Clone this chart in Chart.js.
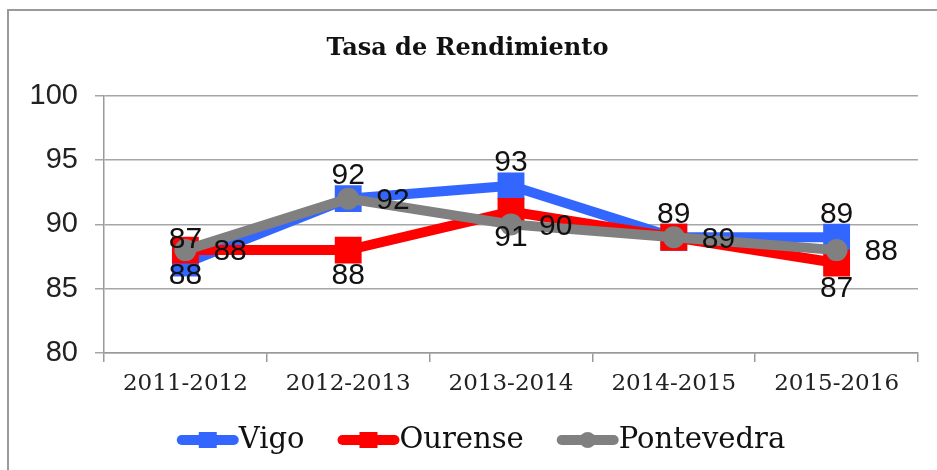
<!DOCTYPE html>
<html>
<head>
<meta charset="utf-8">
<script src="https://cdn.jsdelivr.net/npm/chart.js@4.4.0/dist/chart.umd.min.js"></script>
<style>
  html, body { margin: 0; padding: 0; background: #fff; }
  #grafico-wrap { width: 937px; height: 470px; }
</style>
</head>
<body>
<div id="grafico-wrap"><canvas id="rendimiento"></canvas></div>
<script>
// Datos del gráfico
var cursos = ['2011-2012', '2012-2013', '2013-2014', '2014-2015', '2015-2016'];
var vigo = [87, 92, 93, 89, 89];
var ourense = [88, 88, 91, 89, 87];
var pontevedra = [88, 92, 90, 89, 88];
var etiquetasOcultasOurense = [3]; // la etiqueta de 2014-2015 no aparece en el original

var fuenteSerif = '"DejaVu Serif", "Liberation Serif", serif';
var fuenteSans = '"Liberation Sans", Arial, sans-serif';

// Marco gris del gráfico (arriba e izquierda)
var marco = {
    id: 'marco',
    beforeDraw: function (chart) {
        var ctx = chart.ctx;
        ctx.save();
        ctx.fillStyle = '#fff';
        ctx.fillRect(0, 0, chart.width, chart.height);
        ctx.strokeStyle = '#9a9a9a';
        ctx.lineWidth = 2;
        ctx.beginPath();
        ctx.moveTo(7, 10);
        ctx.lineTo(chart.width, 10);
        ctx.moveTo(8, 10);
        ctx.lineTo(8, chart.height);
        ctx.stroke();
        ctx.restore();
    }
};

// Etiquetas de datos: arriba, abajo o a la derecha del punto
var etiquetas = {
    id: 'etiquetas',
    afterDatasetsDraw: function (chart) {
        var ctx = chart.ctx;
        ctx.save();
        ctx.font = '30px ' + fuenteSans;
        ctx.fillStyle = '#111';
        chart.data.datasets.forEach(function (ds, i) {
            var meta = chart.getDatasetMeta(i);
            meta.data.forEach(function (pt, j) {
                if (ds.ocultas && ds.ocultas.indexOf(j) !== -1) return;
                var txt = String(ds.data[j]);
                if (ds.posicion === 'arriba') {
                    ctx.textAlign = 'center';
                    ctx.textBaseline = 'middle';
                    ctx.fillText(txt, pt.x, pt.y - 23);
                } else if (ds.posicion === 'abajo') {
                    ctx.textAlign = 'center';
                    ctx.textBaseline = 'middle';
                    ctx.fillText(txt, pt.x, pt.y + 26);
                } else {
                    ctx.textAlign = 'left';
                    ctx.textBaseline = 'middle';
                    ctx.fillText(txt, pt.x + 28, pt.y + 2);
                }
            });
        });
        ctx.restore();
    }
};

// Leyenda propia: línea gruesa con marcador y texto
var leyenda = {
    id: 'leyenda',
    afterDraw: function (chart) {
        var ctx = chart.ctx;
        var series = chart.data.datasets.slice().sort(function (a, b) { return a.indice - b.indice; });
        ctx.save();
        ctx.font = '29px ' + fuenteSerif;
        var largoLinea = 60, hueco = 1, separacion = 34;
        var total = 0;
        series.forEach(function (ds, k) {
            total += largoLinea + hueco + ctx.measureText(ds.label).width;
            if (k > 0) total += separacion;
        });
        var x = chart.width / 2 + 13 - total / 2;
        var y = 440;
        series.forEach(function (ds) {
            ctx.strokeStyle = ds.borderColor;
            ctx.lineWidth = 10;
            ctx.lineCap = 'round';
            ctx.beginPath();
            ctx.moveTo(x + 4, y);
            ctx.lineTo(x + largoLinea - 4, y);
            ctx.stroke();
            ctx.fillStyle = ds.borderColor;
            if (ds.pointStyle === 'circle') {
                ctx.beginPath();
                ctx.arc(x + largoLinea / 2, y, 8, 0, Math.PI * 2);
                ctx.fill();
            } else {
                ctx.fillRect(x + largoLinea / 2 - 9, y - 8, 18, 16);
            }
            ctx.fillStyle = '#111';
            ctx.textAlign = 'left';
            ctx.textBaseline = 'middle';
            ctx.fillText(ds.label, x + largoLinea + hueco, y);
            x += largoLinea + hueco + ctx.measureText(ds.label).width + separacion;
        });
        ctx.restore();
    }
};

var ctxRend = document.getElementById('rendimiento');
new Chart(ctxRend, {
    type: 'line',
    data: {
        labels: cursos,
        datasets: [{
            label: 'Vigo',
            indice: 0,
            data: vigo,
            posicion: 'arriba',
            borderColor: '#3366ff',
            backgroundColor: '#3366ff',
            borderWidth: 10,
            pointStyle: 'rect',
            pointRadius: 19,
            pointBorderWidth: 0,
            order: 2
        },
        {
            label: 'Ourense',
            indice: 1,
            data: ourense,
            posicion: 'abajo',
            ocultas: etiquetasOcultasOurense,
            borderColor: '#ff0000',
            backgroundColor: '#ff0000',
            borderWidth: 10,
            pointStyle: 'rect',
            pointRadius: 19,
            pointBorderWidth: 0,
            order: 1
        },
        {
            label: 'Pontevedra',
            indice: 2,
            data: pontevedra,
            posicion: 'derecha',
            borderColor: '#808080',
            backgroundColor: '#808080',
            borderWidth: 10,
            pointStyle: 'circle',
            pointRadius: 11,
            pointBorderWidth: 0,
            order: 0
        }]
    },
    options: {
        responsive: true,
        maintainAspectRatio: false,
        animation: false,
        layout: {
            padding: { left: 0, right: 2, top: 0, bottom: 72 }
        },
        scales: {
            x: {
                offset: true,
                grid: {
                    offset: true,
                    drawOnChartArea: false,
                    drawTicks: true,
                    tickLength: 9,
                    color: '#9a9a9a',
                    lineWidth: 1.5
                },
                border: { color: '#9a9a9a', width: 1.5 },
                ticks: {
                    color: '#222',
                    padding: 8,
                    maxRotation: 0,
                    font: { family: fuenteSerif, size: 23 }
                },
                afterFit: function (scale) { scale.height = 45; }
            },
            y: {
                min: 80,
                max: 100,
                grid: {
                    color: '#a6a6a6',
                    lineWidth: 1.5,
                    tickLength: 9
                },
                border: { color: '#9a9a9a', width: 1.5 },
                ticks: {
                    stepSize: 5,
                    color: '#222',
                    padding: 17,
                    font: { family: fuenteSans, size: 29 }
                },
                afterFit: function (scale) { scale.width = 104; }
            }
        },
        plugins: {
            title: {
                display: true,
                text: 'Tasa de Rendimiento',
                color: '#111',
                font: { family: fuenteSerif, size: 24, weight: 'bold', lineHeight: 1.2 },
                padding: { top: 34, bottom: 33 }
            },
            legend: { display: false },
            tooltip: { enabled: false }
        }
    },
    plugins: [marco, etiquetas, leyenda]
});
</script>
</body>
</html>
